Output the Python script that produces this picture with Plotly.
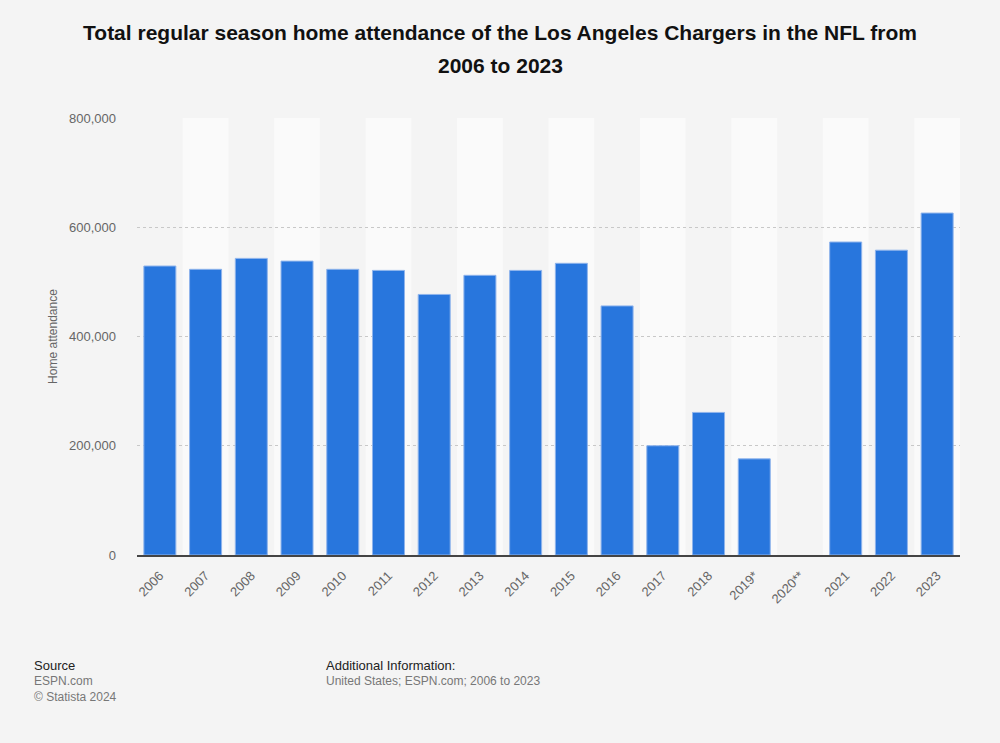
import plotly.graph_objects as go

years = ["2006", "2007", "2008", "2009", "2010", "2011", "2012", "2013", "2014",
         "2015", "2016", "2017", "2018", "2019*", "2020**", "2021", "2022", "2023"]
attendance = [529000, 523000, 543000, 538000, 523000, 521000, 477000, 512000, 521000,
              534000, 456000, 200000, 261000, 176000, 0, 573000, 558000, 626000]
y_ticks = [0, 200000, 400000, 600000, 800000]
y_tick_text = ["0", "200,000", "400,000", "600,000", "800,000"]
title_line1 = "Total regular season home attendance of the Los Angeles Chargers in the NFL from"
title_line2 = "2006 to 2023"

FONT = "Liberation Sans, Arial, sans-serif"

fig = go.Figure()
fig.add_trace(go.Bar(
    x=years, y=attendance,
    marker=dict(color="#2876DD",
                line=dict(color="#8fb4ec", width=[0 if v == 0 else 1 for v in attendance])),
    width=0.7,
    hoverinfo="x+y",
))

shapes = []
for i, yr in enumerate(years):
    if i % 2 == 1:
        shapes.append(dict(type="rect", xref="x", yref="y", x0=i - 0.5, x1=i + 0.5,
                           y0=0, y1=800000, fillcolor="#fafafa", line=dict(width=0),
                           layer="below"))

fig.update_layout(
    width=1000, height=743,
    paper_bgcolor="#f4f4f4", plot_bgcolor="#f4f4f4",
    margin=dict(l=137, r=40, t=118, b=188),
    font=dict(family=FONT, color="#666666", size=12),
    title=dict(
        text="<b>" + title_line1 + "</b>",
        x=0.5, xanchor="center", y=1 - 33 / 743, yanchor="middle",
        font=dict(family=FONT, size=21, color="#111111"),
    ),
    shapes=shapes,
    showlegend=False,
    bargap=0.3,
)
fig.add_annotation(text="<b>" + title_line2 + "</b>", xref="paper", yref="paper",
                   x=(500 - 137) / 823, y=1 + (118 - 66) / 437, xanchor="center", yanchor="middle",
                   showarrow=False, font=dict(family=FONT, size=21, color="#111111"))
fig.update_xaxes(
    type="category", tickangle=-45, showgrid=False,
    showline=True, linecolor="#444444", linewidth=2,
    tickfont=dict(size=13, color="#666666"), ticks="", ticklabelstandoff=6,
    range=[-0.5, len(years) - 0.5],
)
fig.update_yaxes(
    range=[0, 800000], tickvals=y_ticks, ticktext=y_tick_text,
    showgrid=True, gridcolor="#c8c8c8", griddash="dot", gridwidth=1,
    zeroline=False, ticks="", ticklabelstandoff=20,
    tickfont=dict(size=13, color="#666666"),
    title=dict(text="Home attendance", font=dict(size=12, color="#666666"), standoff=8),
)

fig.add_annotation(text="Source", xref="paper", yref="paper", x=-0.127, y=-0.232,
                   xanchor="left", yanchor="top", showarrow=False,
                   font=dict(size=13, color="#222222"), align="left")
fig.add_annotation(text="ESPN.com<br>© Statista 2024", xref="paper", yref="paper",
                   x=-0.127, y=-0.267, xanchor="left", yanchor="top", showarrow=False,
                   font=dict(size=12, color="#777777"), align="left")
fig.add_annotation(text="Additional Information:", xref="paper", yref="paper",
                   x=0.227, y=-0.232, xanchor="left", yanchor="top", showarrow=False,
                   font=dict(size=13, color="#222222"), align="left")
fig.add_annotation(text="United States; ESPN.com; 2006 to 2023", xref="paper", yref="paper",
                   x=0.227, y=-0.267, xanchor="left", yanchor="top", showarrow=False,
                   font=dict(size=12, color="#777777"), align="left")

fig.write_html("out.html", config={"displayModeBar": False},
               post_script="document.body.style.margin='0';document.body.style.padding='0';")
